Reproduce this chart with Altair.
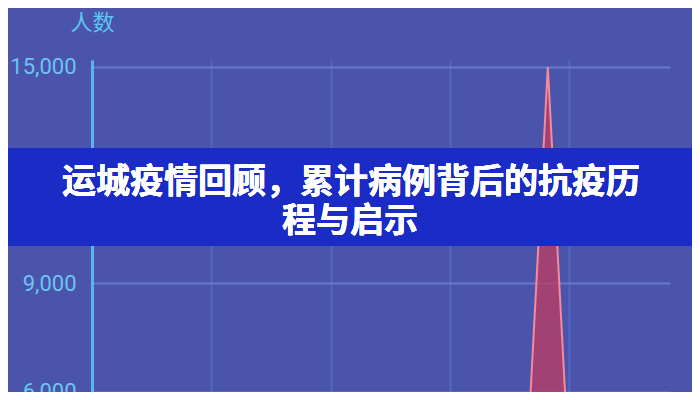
import altair as alt
import pandas as pd

# data
day = [0, 17.9, 19.1, 20.3, 24.2]
cases = [0, 0, 15000, 0, 0]
y_ticks = [6000, 9000, 12000, 15000]
x_ticks = [0, 5, 10, 15, 20]
banner_lines = ["运城疫情回顾，累计病例背后的抗疫历", "程与启示"]

df = pd.DataFrame({"day": day, "cases": cases})

W, H = 578, 332

x_enc = alt.X("day:Q", scale=alt.Scale(domain=[0, 24.22], nice=False, zero=False),
              axis=alt.Axis(values=x_ticks, labels=False, ticks=False, domain=False,
                            grid=True, gridColor="#5766bd", gridWidth=2, title=None))
y_enc = alt.Y("cases:Q", scale=alt.Scale(domain=[5990, 15193], nice=False, zero=False),
              axis=alt.Axis(values=y_ticks, format=",d", title="人数",
                            titleAngle=0, titleAlign="center", titleBaseline="middle",
                            titleX=0, titleY=-38, titleFont="Noto Sans CJK SC",
                            titleFontSize=22, titleFontWeight="normal", titleColor="#5cc6f2",
                            labelFont="Roboto", labelFontSize=22, labelColor="#6cc4f2",
                            labelPadding=16, ticks=False,
                            domain=True, domainColor="#5cb2f6", domainWidth=3,
                            grid=True, gridColor="#6a79cc", gridWidth=2))

spike = alt.Chart(df).mark_area(
    clip=True, color="#c03c62", opacity=0.75,
    line={"color": "#f58a9c", "strokeWidth": 2},
).encode(x=x_enc, y=y_enc)

banner = alt.Chart(df).mark_rect(color="#1a2bc6", opacity=0.88, clip=False).encode(
    x=alt.value(-84), x2=alt.value(W + 22), y=alt.value(88), y2=alt.value(186)
)

text1 = alt.Chart(df).mark_text(
    font="Noto Sans CJK SC", fontSize=34, fontWeight="bold", color="white",
    align="center", baseline="middle"
).encode(x=alt.value(259), y=alt.value(123), text=alt.value(banner_lines[0]))

text2 = alt.Chart(df).mark_text(
    font="Noto Sans CJK SC", fontSize=34, fontWeight="bold", color="white",
    align="center", baseline="middle"
).encode(x=alt.value(258), y=alt.value(162), text=alt.value(banner_lines[1]))

chart = alt.layer(spike, banner, text1, text2).properties(
    width=W, height=H,
    autosize=alt.AutoSizeParams(type="none"),
    padding={"left": 84, "top": 52, "right": 22, "bottom": 0},
    background="#4954aa",
).configure_view(stroke=None)

chart.save("out.html", embed_options={"renderer": "svg", "actions": False})
